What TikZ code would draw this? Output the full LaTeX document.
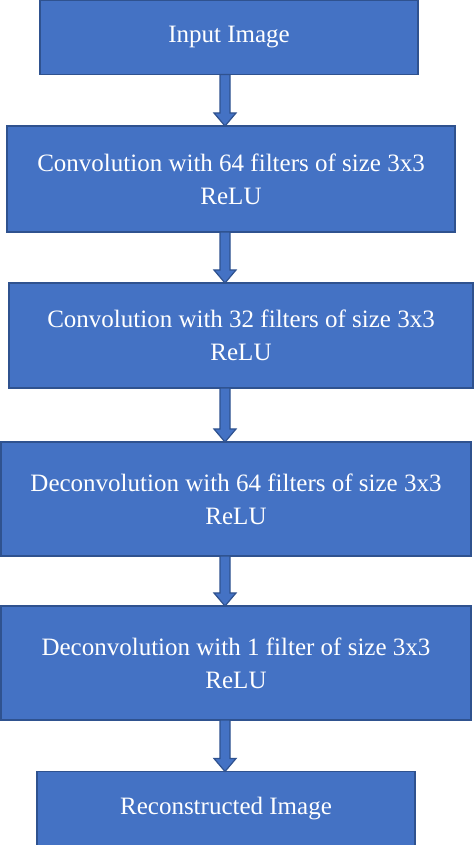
\documentclass[tikz,border=0pt]{standalone}
\usepackage{fontspec}
\setmainfont{Liberation Serif}
\usetikzlibrary{calc}
\definecolor{boxblue}{HTML}{4472C4}
\definecolor{boxedge}{HTML}{2F528F}
\tikzset{
  layer/.style={draw=boxedge, fill=boxblue, line width=1.5pt, text=white, align=center,
    inner sep=0pt, outer sep=0pt, font=\fontsize{25}{33}\selectfont},
  flowarrow/.style={draw=boxedge, fill=boxblue, line width=1.2pt, line join=miter}
}
% block arrow from the bottom of one layer to the top of the next
\newcommand\flowto[2]{%
  \draw[flowarrow] let \p1=(axis |- #1.south), \p2=(axis |- #2.north) in
    (\x1-5pt,\y1) -- (\x1-5pt,\y2+13pt) -- (\x1-11pt,\y2+13pt) -- (\x1,\y2)
    -- (\x1+11pt,\y2+13pt) -- (\x1+5pt,\y2+13pt) -- (\x1+5pt,\y1) -- cycle;}
\begin{document}
\begin{tikzpicture}[x=1pt,y=1pt]
  \useasboundingbox (0,0) rectangle (474,845);
  \coordinate (axis) at (225,0);
  \node[layer, minimum width=378, minimum height=74]  (In)  at (229,807.5) {Input Image};
  \node[layer, minimum width=448, minimum height=106] (C1)  at (231,666)   {Convolution with 64 filters of size 3x3\\ReLU};
  \node[layer, minimum width=464, minimum height=105] (C2)  at (241,509.5) {Convolution with 32 filters of size 3x3\\ReLU};
  \node[layer, minimum width=470, minimum height=114] (D1)  at (236,346)   {Deconvolution with 64 filters of size 3x3\\ReLU};
  \node[layer, minimum width=470, minimum height=114] (D2)  at (236,182)   {Deconvolution with 1 filter of size 3x3\\ReLU};
  \node[layer, minimum width=378, minimum height=74]  (Out) at (226,36.5)  {Reconstructed Image};
  \flowto{In}{C1}
  \flowto{C1}{C2}
  \flowto{C2}{D1}
  \flowto{D1}{D2}
  \flowto{D2}{Out}
\end{tikzpicture}
\end{document}
